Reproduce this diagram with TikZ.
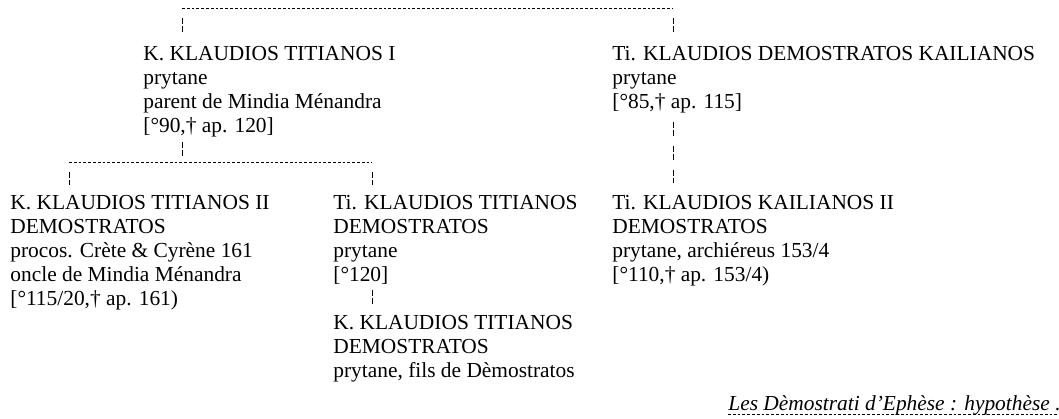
\documentclass[tikz,border=0pt]{standalone}
\usepackage{fontspec}
\setmainfont{Liberation Serif}
\usetikzlibrary{positioning}

\begin{document}
\begin{tikzpicture}[x=0.5pt,y=-0.5pt,
  person/.style={anchor=north west,inner sep=0pt,align=left,font=\fontsize{10.7}{12}\selectfont},
  hline/.style={line width=0.45pt,dash pattern=on 1.4pt off 1pt},
  vline/.style={line width=0.45pt,dash pattern=on 3pt off 1pt on 3pt off 5pt},
]
  \useasboundingbox (0,0) rectangle (1059,418);

  \coordinate (jt1) at (182,8);
  \coordinate (jt2) at (673,8);
  \coordinate (jm) at (182,162);
  \coordinate (jl) at (69,162);
  \coordinate (jr) at (372,162);

  \node[person] (tit) at (143,46) {K. KLAUDIOS TITIANOS I\\prytane\\parent de Mindia Ménandra\\{[°90,† ap. 120]}};
  \node[person] (dem) at (612,46) {Ti. KLAUDIOS DEMOSTRATOS KAILIANOS\\prytane\\{[°85,† ap. 115]}};

  \node[person] (tit2) at (10,195) {K. KLAUDIOS TITIANOS II\\DEMOSTRATOS\\procos. Crète \& Cyrène 161\\oncle de Mindia Ménandra\\{[°115/20,† ap. 161)}};
  \node[person] (tid) at (333,195) {Ti. KLAUDIOS TITIANOS\\DEMOSTRATOS\\prytane\\{[°120]}};
  \node[below=15pt of tid.south west,person] (tidf) {K. KLAUDIOS TITIANOS\\DEMOSTRATOS\\prytane, fils de Dèmostratos};
  \node[person] (kai) at (612,195) {Ti. KLAUDIOS KAILIANOS II\\DEMOSTRATOS\\prytane, archiéreus 153/4\\{[°110,† ap. 153/4)}};

  % lignes de parenté
  \draw[hline] (jt1) -- (jt2);
  \draw[vline,shorten <=5pt,shorten >=7pt] (jt1) -- (jt1 |- tit.north);
  \draw[vline,shorten <=5pt,shorten >=7pt] (jt2) -- (jt2 |- dem.north);
  \draw[vline,shorten <=2pt] (jm |- tit.south) -- (jm);
  \draw[hline] (jl) -- (jr);
  \draw[vline,shorten <=5pt,shorten >=5pt] (jl) -- (jl |- tit2.north);
  \draw[vline,shorten <=5pt,shorten >=5pt] (jr) -- (jr |- tid.north);
  \draw[vline,shorten <=2.5pt,shorten >=5pt] (jr |- tid.south) -- (jr |- tidf.north);
  \draw[vline,shorten <=4pt,shorten >=6pt] (jt2 |- dem.south) -- (jt2 |- kai.north);

  \node[anchor=base east,inner sep=0pt,font=\fontsize{10.7}{12}\selectfont\itshape] (cap) at (1061,410) {Les Dèmostrati d’Ephèse : hypothèse .};
  \draw[hline] ([yshift=-2pt]cap.base west) -- ([yshift=-2pt]cap.base east);
\end{tikzpicture}
\end{document}
